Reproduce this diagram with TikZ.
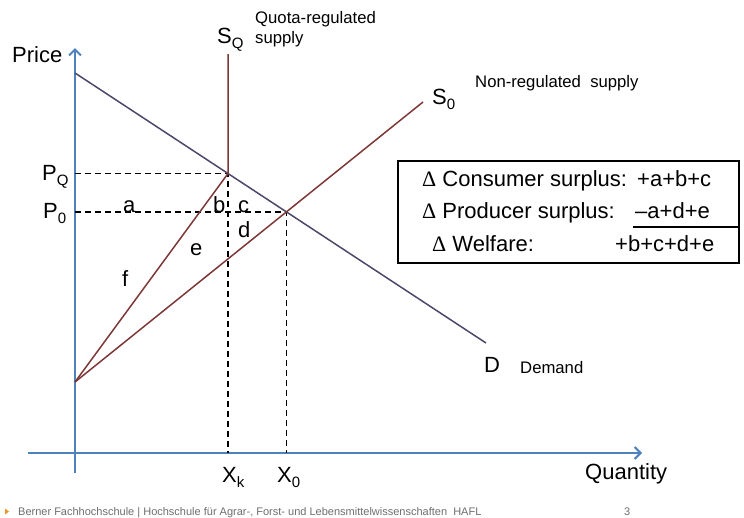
\documentclass[tikz,border=0pt]{standalone}
\usepackage{fontspec}
\setmainfont{Liberation Sans}
\newfontfamily\deltafont{Liberation Serif}
\usepackage{tikz}
\usetikzlibrary{arrows.meta}
\usetikzlibrary{positioning}

\definecolor{axisblue}{RGB}{79,129,189}
\definecolor{demandline}{RGB}{75,72,105}
\definecolor{supplyline}{RGB}{125,55,55}
\definecolor{footergray}{RGB}{110,110,110}
\definecolor{footerorange}{RGB}{235,150,40}

\newcommand{\lowidx}[1]{\raisebox{-0.45ex}{\fontsize{15}{15}\selectfont #1}}

\begin{document}
\begin{tikzpicture}[x=1pt, y=-1pt,
    axis/.style={axisblue, line width=2.6pt, -{Straight Barb[length=6pt, width=12pt, line width=2pt]}},
    guide/.style={black, line width=1.4pt, dash pattern=on 6pt off 4pt},
    demand/.style={demandline, line width=1.5pt},
    supply/.style={supplyline, line width=1.5pt},
    big/.style={font=\fontsize{22}{24}\selectfont, inner sep=0pt, anchor=base west},
    small/.style={font=\fontsize{16.7}{18}\selectfont, inner sep=0pt, anchor=base west},
    boxtext/.style={font=\fontsize{22}{24}\selectfont, inner sep=0pt, anchor=base west},
    foot/.style={font=\fontsize{11}{12}\selectfont, text=footergray, anchor=base west, inner sep=0pt}]
    \useasboundingbox (0,0) rectangle (744,517);

    % Axes
    \coordinate (origin) at (75,453);
    \coordinate (ybottom) at (75,473);
    \coordinate (ytip) at (75,48);
    \coordinate (xleft) at (28,453);
    \coordinate (xtip) at (642,453);
    \draw[axis] (ybottom) -- (ytip);
    \draw[axis] (xleft) -- (xtip);

    % Curve end points
    \coordinate (dstart) at (75,73);
    \coordinate (dend) at (486,343);
    \coordinate (sbase) at (75,382);
    \coordinate (s0end) at (423,102);
    \coordinate (sqtop) at (228,54);
    \coordinate (quota) at (intersection of dstart--dend and sqtop--{228,453});
    \coordinate (equil) at (intersection of dstart--dend and sbase--s0end);

    % Guide lines
    \draw[guide] (quota -| origin) -- (quota) -- (quota |- origin);
    \draw[guide] (equil -| origin) -- (equil) -- (equil |- origin);

    % Demand
    \draw[demand] (dstart) -- (dend);

    % Supply: quota-regulated and non-regulated
    \draw[supply] (sqtop) -- (quota) -- (sbase);
    \draw[supply] (sbase) -- (s0end);

    % Axis and curve labels
    \node[big] (pricelabel) at (12,62) {Price};
    \node[big] (quantitylabel) at (585,479) {Quantity};
    \node[big] (sqlabel) at (217,43) {S\lowidx{Q}};
    \node[small] (quotanote) at (255,23) {Quota-regulated};
    \node[small] (quotanote2) at (255,43) {supply};
    \node[big] (s0label) at (432,104) {S\lowidx{0}};
    \node[small] (nonregnote) at (475,87) {Non-regulated\ \ supply};
    \node[big] (dlabel) at (484,372) {D};
    \node[small] (demandnote) at (520,373) {Demand};
    \node[big] (pqlabel) at (42,180) {P\lowidx{Q}};
    \node[big] (p0label) at (43,218) {P\lowidx{0}};
    \node[big] (xklabel) at (222,482) {X\lowidx{k}};
    \node[big] (x0label) at (277,482) {X\lowidx{0}};

    % Areas
    \node[big] (areaa) at (123,212) {a};
    \node[big] (areab) at (213,212) {b};
    \node[big] (areac) at (238,212) {c};
    \node[big] (aread) at (238,237) {d};
    \node[big] (areae) at (190,255) {e};
    \node[big] (areaf) at (122,286) {f};

    % Summary box
    \node[draw, line width=2pt, minimum width=341pt, minimum height=102pt, anchor=north west] (summary) at (397,160) {};
    \node[boxtext] (cslabel) at (422,186) {{\deltafont Δ} Consumer surplus:};
    \node[boxtext] (csvalue) at (637,186) {+a+b+c};
    \node[boxtext] (pslabel) at (422,218) {{\deltafont Δ} Producer surplus:};
    \node[boxtext] (psvalue) at (635,218) {–a+d+e};
    \node[boxtext] (wflabel) at (432,251) {{\deltafont Δ} Welfare:};
    \node[boxtext] (wfvalue) at (615,251) {+b+c+d+e};
    \coordinate (sumleft) at (633,227);
    \draw[line width=1.5pt] (sumleft) -- (sumleft -| summary.east);

    % Footer
    \fill[footerorange] (5,508.5) -- (9,511.5) -- (5,514.5) -- cycle;
    \node[foot] (footer) at (18,515) {Berner Fachhochschule | Hochschule für Agrar-, Forst- und Lebensmittelwissenschaften\ \ HAFL};
    \node[foot] (pagenum) at (624,515) {3};
\end{tikzpicture}
\end{document}
